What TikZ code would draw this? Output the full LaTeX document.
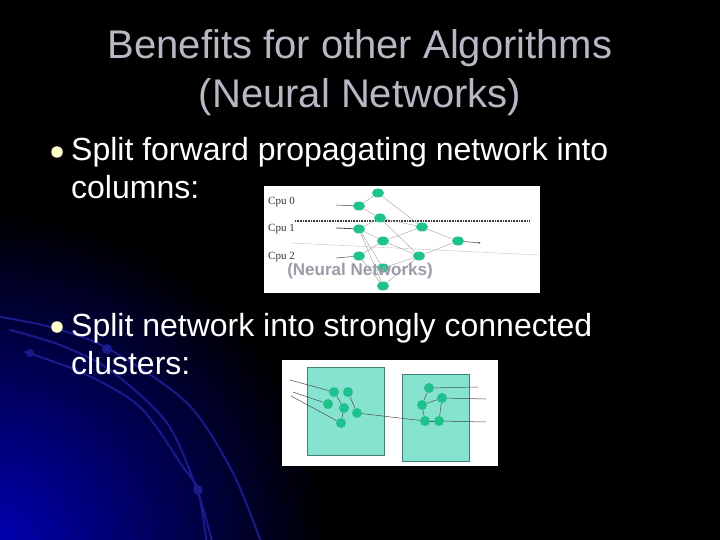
\documentclass[tikz,border=0pt]{standalone}
\usepackage{fontspec}
\setmainfont{Liberation Sans}
\newfontfamily\cpufont{Liberation Serif}
\usetikzlibrary{arrows.meta, shapes.geometric}
\definecolor{titlegrey}{HTML}{B8B8C4}
\definecolor{bulletcream}{HTML}{FFFFCC}
\definecolor{arcblue}{HTML}{1A1A8C}
\definecolor{glowblue}{HTML}{0000B8}
\definecolor{neurongreen}{HTML}{1FC28C}
\definecolor{clusterfill}{HTML}{86E3D0}
\definecolor{clusterline}{HTML}{3F7F74}
\definecolor{overlaygrey}{HTML}{9C9CA8}
\tikzset{
  slidetitle/.style={anchor=base, inner sep=0pt, text=titlegrey, font=\fontsize{40}{48}\selectfont},
  bullettext/.style={anchor=base west, inner sep=0pt, text=white, font=\fontsize{32}{38}\selectfont},
  bulletdot/.style={circle, fill=bulletcream, minimum size=11.5pt, inner sep=0pt},
  neuron/.style={ellipse, fill=neurongreen, minimum width=12pt, minimum height=9pt, inner sep=0pt},
  cellnode/.style={circle, fill=neurongreen, minimum size=10pt, inner sep=0pt},
  synapse/.style={draw=gray!75, line width=0.4pt},
  wire/.style={draw=gray!60!black, line width=0.5pt},
  cpulabel/.style={anchor=base west, inner sep=0pt, text=black!80, font=\cpufont\fontsize{11}{13}\selectfont},
  clusterbox/.style={fill=clusterfill, draw=clusterline, line width=0.7pt},
  bgarc/.style={draw=arcblue, line width=2pt, line cap=round},
  bgdot/.style={fill=arcblue}
}

\begin{document}
\begin{tikzpicture}[x=1pt, y=-1pt]
% slide background
\fill[black] (0,0) rectangle (720,540);
\begin{scope}
  \clip (0,0) rectangle (720,540);
  \foreach \i in {0,...,47} {
    \pgfmathsetmacro\rad{340-7*\i}
    \pgfmathsetmacro\mix{100*(1-\rad/340)}
    \fill[glowblue!\mix!black] (-10,550) circle (\rad);
  }
  \draw[bgarc] plot[smooth] coordinates {(-5,316) (50,327) (107,348) (187,403) (233,473) (262,545)};
  \draw[bgarc] plot[smooth] coordinates {(10,330) (60,345) (110,370) (167,423) (197,490) (213,545)};
  \draw[bgarc] plot[smooth] coordinates {(25,352) (83,373) (140,407) (183,467) (198,490) (207,545)};
  \fill[bgdot] (107,349) circle (5);
  \fill[bgdot] (30,353) circle (4);
  \fill[bgdot] (198,490) circle (5);
\end{scope}
\useasboundingbox (0,0) rectangle (720,540);

% title
\node[slidetitle] (titletop) at (360,59) {Benefits for other Algorithms};
\node[slidetitle] (titlebottom) at (360,108) {(Neural Networks)};

% bullets
\node[bulletdot] (dotcols) at (57,152) {};
\node[bullettext] (colsa) at (71,161) {Split forward propagating network into};
\node[bullettext] (colsb) at (71,199) {columns:};
\node[bulletdot] (dotclus) at (57,327) {};
\node[bullettext] (clusa) at (71,336) {Split network into strongly connected};
\node[bullettext] (clusb) at (71,374) {clusters:};

% picture 1: network split into columns
\fill[white] (264,186) rectangle (540,293);
\draw[gray!45!black, line width=1.4pt, dash pattern=on 1pt off 0.6pt] (295,221) -- (529,221);
\draw[gray!70, line width=0.5pt, dash pattern=on 0.8pt off 0.8pt] (292,243) -- (539,255);
\node[cpulabel] (cpu0) at (268,205) {Cpu 0};
\node[cpulabel] (cpu1) at (268,232) {Cpu 1};
\node[cpulabel] (cpu2) at (268,259) {Cpu 2};

\node[neuron] (a0) at (359,206) {};
\node[neuron] (a1) at (359,229) {};
\node[neuron] (a2) at (359,256) {};
\node[neuron] (b0) at (378,193) {};
\node[neuron] (b1) at (380,218) {};
\node[neuron] (b2) at (383,241) {};
\node[neuron] (b3) at (383,268) {};
\node[neuron] (b4) at (383,286) {};
\node[neuron] (c0) at (422,227) {};
\node[neuron] (c1) at (419,256) {};
\node[neuron] (d0) at (458,241) {};

\coordinate (ina0) at (336,205);
\coordinate (ina1) at (336,228);
\coordinate (ina2) at (336,258);
\coordinate (outd0) at (481,243);
\draw[wire] (ina0) -- (a0);
\draw[wire, line width=0.8pt] (ina1) -- (a1);
\draw[wire] (ina2) -- (a2);
\draw[wire, -{Latex[length=2.5pt, width=2pt]}] (d0) -- (outd0);

\draw[synapse] (a0) -- (b0);
\draw[synapse] (a0) -- (b1);
\draw[synapse] (a1) -- (b1);
\draw[synapse] (a1) -- (b2);
\draw[synapse] (a1) -- (b3);
\draw[synapse] (a1) -- (b4);
\draw[synapse] (a2) -- (b2);
\draw[synapse] (a2) -- (b4);
\draw[synapse] (b0) -- (c0);
\draw[synapse] (b1) -- (c0);
\draw[synapse] (b1) -- (c1);
\draw[synapse] (b2) -- (c0);
\draw[synapse] (b2) -- (c1);
\draw[synapse] (b3) -- (c1);
\draw[synapse] (b4) -- (c1);
\draw[synapse] (c0) -- (d0);
\draw[synapse] (c1) -- (d0);

\node[text=overlaygrey, font=\bfseries\fontsize{17}{20}\selectfont, inner sep=0pt] (overlay) at (360,271) {(Neural Networks)};

% picture 2: strongly connected clusters
\fill[white] (282,360) rectangle (498,466);
\draw[clusterbox] (307,367) rectangle (384,455);
\draw[clusterbox] (402,374) rectangle (469,461);

\node[cellnode] (p1) at (334,392) {};
\node[cellnode] (p2) at (348,392) {};
\node[cellnode] (p3) at (328,404) {};
\node[cellnode] (p4) at (344,408) {};
\node[cellnode] (p5) at (357,413) {};
\node[cellnode] (p6) at (341,423) {};
\node[cellnode] (q1) at (429,388) {};
\node[cellnode] (q2) at (442,398) {};
\node[cellnode] (q3) at (422,405) {};
\node[cellnode] (q4) at (425,421) {};
\node[cellnode] (q5) at (439,421) {};

\coordinate (inp1) at (290,380);
\coordinate (inp3) at (293,392);
\coordinate (inp6) at (291,396);
\coordinate (outq1) at (478,387);
\coordinate (outq2) at (486,399);
\coordinate (outq5) at (486,422);
\draw[wire] (inp1) -- (p1);
\draw[wire] (inp3) -- (p3);
\draw[wire] (inp6) -- (p6);
\draw[wire] (q1) -- (outq1);
\draw[wire] (q2) -- (outq2);
\draw[wire] (q5) -- (outq5);

\draw[wire] (p1) -- (p4);
\draw[wire] (p2) -- (p5);
\draw[wire] (p4) -- (p6);
\draw[wire] (p5) -- (q4);
\draw[wire] (q1) -- (q3);
\draw[wire] (q3) -- (q2);
\draw[wire] (q3) -- (q4);
\draw[wire] (q2) -- (q5);
\draw[wire] (q4) -- (q5);
\end{tikzpicture}
\end{document}
